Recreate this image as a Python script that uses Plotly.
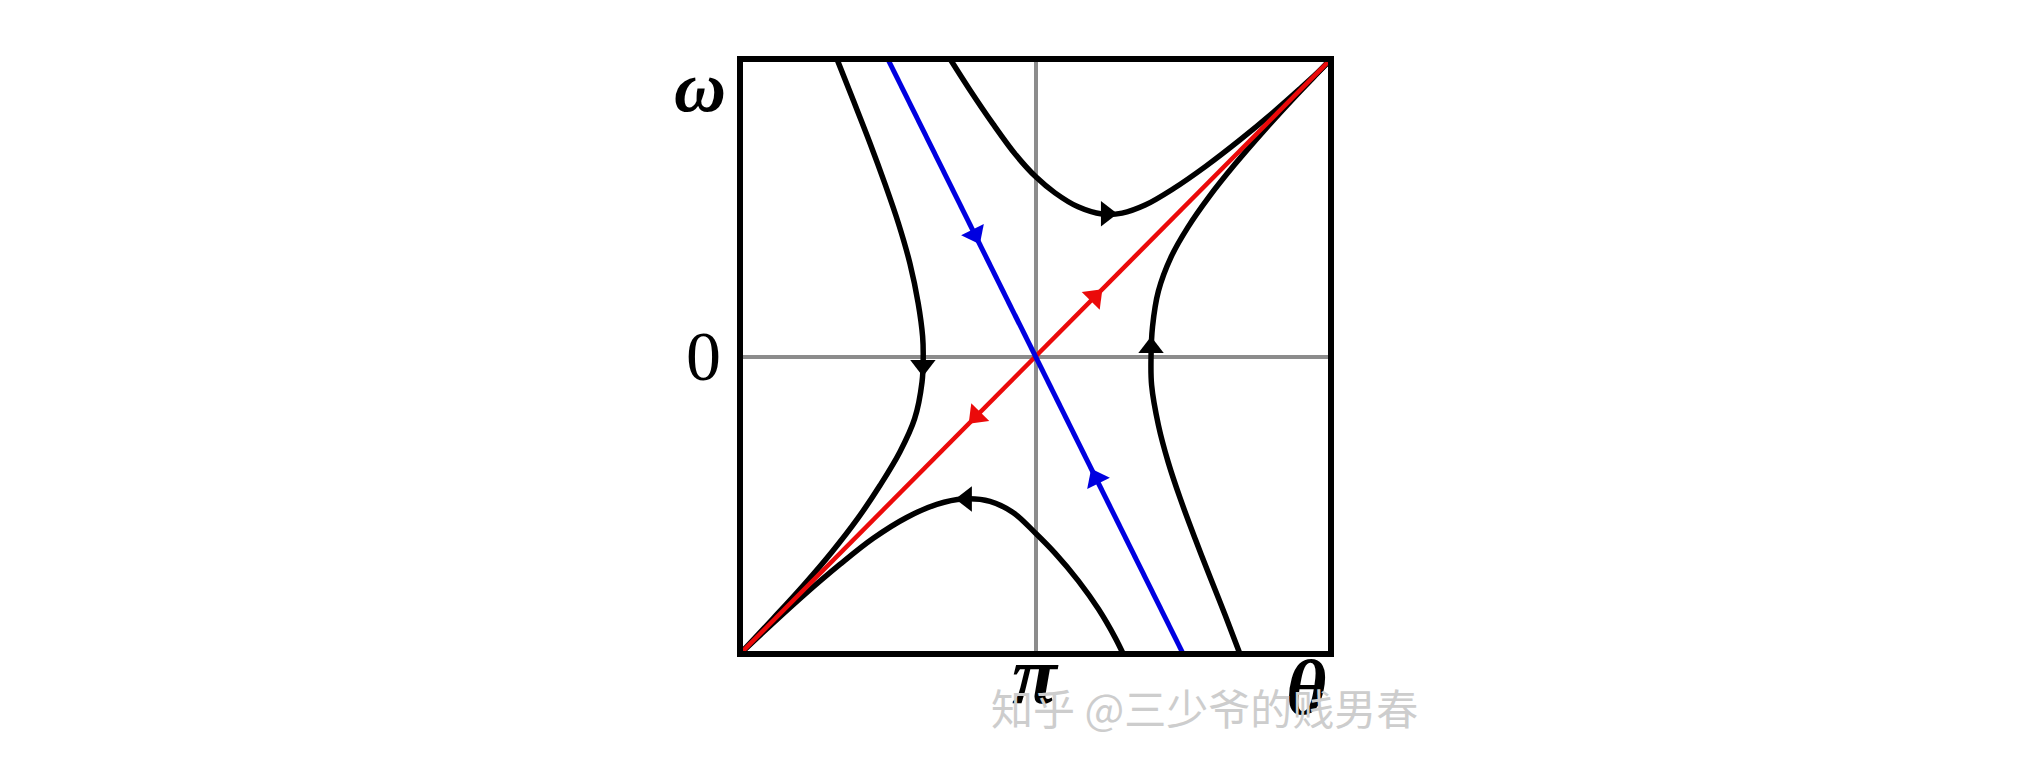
import numpy as np
import plotly.graph_objects as go

PI = np.pi

# ---- data: theta expressed in units of pi, omega normalised to [-1, 1] ----
red_theta = [0.0, 2.0]
red_omega = [-1.0, 1.0]

blue_theta = [0.5, 1.5]
blue_omega = [1.0, -1.0]

top_theta = [0.711, 0.778, 0.856, 0.934, 1.002, 1.066, 1.144, 1.225, 1.293,
             1.371, 1.465, 1.577, 1.692, 1.804, 1.895, 1.963, 2.0]
top_omega = [1.0, 0.896, 0.782, 0.677, 0.603, 0.550, 0.503, 0.479, 0.482,
             0.509, 0.563, 0.640, 0.728, 0.820, 0.900, 0.962, 1.0]

right_theta = [2.0, 1.952, 1.877, 1.783, 1.674, 1.586, 1.516, 1.459, 1.416, 1.396,
               1.391, 1.393, 1.416, 1.449, 1.490, 1.540, 1.593, 1.642, 1.692]
right_omega = [1.0, 0.950, 0.872, 0.770, 0.645, 0.535, 0.435, 0.335, 0.220, 0.100,
               0.0, -0.097, -0.231, -0.355, -0.478, -0.612, -0.747, -0.870, -1.0]

left_theta = [0.328, 0.383, 0.440, 0.490, 0.536, 0.575, 0.603, 0.618, 0.620,
              0.616, 0.591, 0.541, 0.474, 0.398, 0.311, 0.215, 0.112, 0.0]
left_omega = [1.0, 0.862, 0.717, 0.582, 0.448, 0.313, 0.179, 0.067, 0.0,
              -0.086, -0.209, -0.321, -0.433, -0.545, -0.657, -0.769, -0.881, -1.0]

bottom_theta = [0.0, 0.102, 0.214, 0.338, 0.451, 0.564, 0.666, 0.756, 0.846,
                0.925, 1.002, 1.066, 1.145, 1.213, 1.269, 1.297]
bottom_omega = [-1.0, -0.905, -0.804, -0.699, -0.611, -0.541, -0.497, -0.479, -0.487,
                -0.525, -0.596, -0.661, -0.754, -0.849, -0.944, -1.0]

arrow_theta = [0.795, 1.205, 1.200, 0.800, 1.240, 1.391, 0.619, 0.766]
arrow_omega = [0.410, -0.410, 0.200, -0.200, 0.480, 0.030, -0.030, -0.479]
arrow_angle = [153.5, 333.5, 44.8, 224.8, 90, 0, 180, 270]
arrow_color = ["#0000e0", "#0000e0", "#eb0a0a", "#eb0a0a",
               "black", "black", "black", "black"]

tick_theta = [1.0]
tick_theta_text = ["π"]
tick_omega = [0.0]
tick_omega_text = ["0"]

BLACK = "black"
RED = "#eb0a0a"
BLUE = "#0000e0"


def th(vals):
    return [v * PI for v in vals]


fig = go.Figure()

for tx, oy in [(top_theta, top_omega), (right_theta, right_omega),
               (left_theta, left_omega), (bottom_theta, bottom_omega)]:
    fig.add_trace(go.Scatter(x=th(tx), y=oy, mode="lines",
                             line=dict(color=BLACK, width=5.5, shape="spline", smoothing=1.0),
                             hoverinfo="skip"))

fig.add_trace(go.Scatter(x=th(red_theta), y=red_omega, mode="lines",
                         line=dict(color=RED, width=4.5), hoverinfo="skip"))
fig.add_trace(go.Scatter(x=th(blue_theta), y=blue_omega, mode="lines",
                         line=dict(color=BLUE, width=5), hoverinfo="skip"))

fig.add_trace(go.Scatter(x=th(arrow_theta), y=arrow_omega, mode="markers",
                         marker=dict(symbol="triangle-up", size=22, angle=arrow_angle,
                                     color=arrow_color, line=dict(width=0)),
                         hoverinfo="skip"))

fig.update_xaxes(range=[0, 2 * PI], tickvals=th(tick_theta), ticktext=tick_theta_text,
                 showticklabels=False, showgrid=True, gridcolor="#8c8c8c", gridwidth=4,
                 zeroline=False, showline=False, ticks="")
fig.update_yaxes(range=[-1, 1], tickvals=tick_omega, ticktext=tick_omega_text,
                 showticklabels=False, showgrid=True, gridcolor="#8c8c8c", gridwidth=4,
                 zeroline=False, showline=False, ticks="")

fig.add_shape(type="rect", xref="paper", yref="paper", x0=0, x1=1, y0=0, y1=1,
              line=dict(color="black", width=6), layer="above")

serif = "Liberation Serif"
fig.add_annotation(text="<b><i>ω</i></b>", xref="paper", yref="paper", x=-0.068, y=0.953,
                   showarrow=False, font=dict(family=serif, size=72, color="black"),
                   xanchor="center", yanchor="middle")
fig.add_annotation(text=tick_omega_text[0], xref="paper", yref="y", x=-0.061, y=tick_omega[0],
                   showarrow=False, font=dict(family=serif, size=70, color="black"),
                   xanchor="center", yanchor="middle")
fig.add_annotation(text="<b><i>" + tick_theta_text[0] + "</i></b>", xref="x", yref="paper",
                   x=tick_theta[0] * PI, y=-0.036, showarrow=False,
                   font=dict(family=serif, size=82, color="black"),
                   xanchor="center", yanchor="middle")
fig.add_annotation(text="<b><i>θ</i></b>", xref="paper", yref="paper", x=0.958, y=-0.056,
                   showarrow=False, font=dict(family=serif, size=78, color="black"),
                   xanchor="center", yanchor="middle")
fig.add_annotation(text="知乎 @三少爷的贱男春", xref="paper", yref="paper", x=0.786, y=-0.088,
                   showarrow=False, font=dict(family="Noto Sans CJK SC", size=42, color="#cdcdcd"),
                   xanchor="center", yanchor="middle")

# page body has an 8px default margin, so the figure is sized to fit inside the window
fig.update_layout(width=2017, height=746, autosize=False,
                  margin=dict(l=732, r=694, t=51, b=100, pad=0),
                  plot_bgcolor="white", paper_bgcolor="white", showlegend=False)

fig.write_html("out.html")
